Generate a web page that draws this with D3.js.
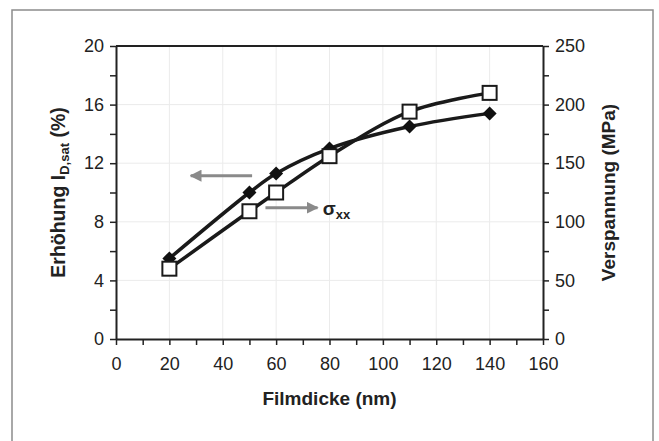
<!DOCTYPE html>
<html>
<head>
<meta charset="utf-8">
<script src="https://cdn.jsdelivr.net/npm/d3@7"></script>
<style>
  body { margin: 0; background: #fff; }
  text { font-family: "Liberation Sans", Arial, sans-serif; }
</style>
</head>
<body>
<div id="chart"></div>
<script>
// Filmdicke (nm)
const filmdicke = [20, 50, 60, 80, 110, 140];
// Erhöhung I_D,sat (%) - left axis, filled diamonds
const erhoehung = [5.5, 10.0, 11.3, 13.0, 14.5, 15.4];
// Verspannung (MPa) - right axis, open squares
const verspannung = [60, 109, 125, 156, 194, 210];

const xTicks = [0, 20, 40, 60, 80, 100, 120, 140, 160];
const yLeftTicks = [0, 4, 8, 12, 16, 20];
const yRightTicks = [0, 50, 100, 150, 200, 250];

const width = 659, height = 441,
    margin = { top: 46, right: 116, bottom: 102, left: 116 };

const svg = d3.select("#chart").append("svg")
    .attr("width", width).attr("height", height);

// outer frame
svg.append("rect")
    .attr("x", 12).attr("y", 10)
    .attr("width", 641).attr("height", 440)
    .attr("fill", "none")
    .attr("stroke", "#8c8c8c")
    .attr("stroke-width", 1.5);

const x = d3.scaleLinear().domain([0, 160]).range([margin.left, width - margin.right]);
const yL = d3.scaleLinear().domain([0, 20]).range([height - margin.bottom, margin.top]);
const yR = d3.scaleLinear().domain([0, 250]).range([height - margin.bottom, margin.top]);

// grid
svg.append("g").selectAll("line")
    .data(xTicks.slice(1, -1))
    .join("line")
    .attr("x1", d => x(d)).attr("x2", d => x(d))
    .attr("y1", yL(0)).attr("y2", yL(20))
    .attr("stroke", "#ebebeb").attr("stroke-width", 1);

svg.append("g").selectAll("line")
    .data(yLeftTicks.slice(1, -1))
    .join("line")
    .attr("x1", x(0)).attr("x2", x(160))
    .attr("y1", d => yL(d)).attr("y2", d => yL(d))
    .attr("stroke", "#ebebeb").attr("stroke-width", 1);

// top border of the plot area
svg.append("line")
    .attr("x1", x(0)).attr("x2", x(160))
    .attr("y1", yL(20)).attr("y2", yL(20))
    .attr("stroke", "#222").attr("stroke-width", 2);

function styleAxis(g) {
    g.selectAll("path").attr("stroke", "#222").attr("stroke-width", 2);
    g.selectAll("line").attr("stroke", "#222").attr("stroke-width", 1.5);
    g.selectAll("text").attr("font-size", 18).attr("fill", "#222")
        .style("font-family", "'Liberation Sans', Arial, sans-serif");
}

// x axis: minor ticks every 10, labels every 20
svg.append("g")
    .attr("transform", `translate(0,${yL(0)})`)
    .call(d3.axisBottom(x).tickValues(d3.range(0, 161, 10)).tickSize(6).tickSizeOuter(0)
        .tickPadding(12)
        .tickFormat(d => xTicks.includes(d) ? d : ""))
    .call(styleAxis);

svg.append("g")
    .attr("transform", `translate(${x(0)},0)`)
    .call(d3.axisLeft(yL).tickValues(d3.range(0, 21, 2)).tickSize(6).tickSizeOuter(0)
        .tickPadding(6)
        .tickFormat(d => yLeftTicks.includes(d) ? d : ""))
    .call(styleAxis);

svg.append("g")
    .attr("transform", `translate(${x(160)},0)`)
    .call(d3.axisRight(yR).tickValues(d3.range(0, 251, 25)).tickSize(6).tickSizeOuter(0)
        .tickPadding(6)
        .tickFormat(d => yRightTicks.includes(d) ? d : ""))
    .call(styleAxis);

// axis titles
svg.append("text")
    .attr("x", (x(0) + x(160)) / 2)
    .attr("y", 405)
    .attr("text-anchor", "middle")
    .attr("font-size", 19).attr("font-weight", "bold").attr("fill", "#222")
    .text("Filmdicke (nm)");

const leftTitle = svg.append("text")
    .attr("transform", `translate(65,${(yL(0) + yL(20)) / 2}) rotate(-90)`)
    .attr("text-anchor", "middle")
    .attr("font-size", 19.5).attr("font-weight", "bold").attr("fill", "#222");
leftTitle.append("tspan").text("Erhöhung I");
leftTitle.append("tspan").attr("font-size", 13).attr("dy", 4).text("D,sat");
leftTitle.append("tspan").attr("dy", -4).text(" (%)");

svg.append("text")
    .attr("transform", `translate(615,${(yL(0) + yL(20)) / 2}) rotate(-90)`)
    .attr("text-anchor", "middle")
    .attr("font-size", 19).attr("font-weight", "bold").attr("fill", "#222")
    .text("Verspannung (MPa)");

// lines
const dataL = filmdicke.map((d, i) => ({ x: d, y: erhoehung[i] }));
const dataR = filmdicke.map((d, i) => ({ x: d, y: verspannung[i] }));

const lineL = d3.line().x(d => x(d.x)).y(d => yL(d.y)).curve(d3.curveCatmullRom.alpha(0.5));
const lineR = d3.line().x(d => x(d.x)).y(d => yR(d.y)).curve(d3.curveCatmullRom.alpha(0.5));

svg.append("path").datum(dataL)
    .attr("fill", "none").attr("stroke", "#1a1a1a").attr("stroke-width", 3.5)
    .attr("d", lineL);
svg.append("path").datum(dataR)
    .attr("fill", "none").attr("stroke", "#1a1a1a").attr("stroke-width", 3.5)
    .attr("d", lineR);

// markers
svg.selectAll(".dia")
    .data(dataL)
    .join("path")
    .attr("class", "dia")
    .attr("transform", d => `translate(${x(d.x)},${yL(d.y)})`)
    .attr("d", "M0,-7L7,0L0,7L-7,0Z")
    .attr("fill", "#111");

svg.selectAll(".sq")
    .data(dataR)
    .join("rect")
    .attr("class", "sq")
    .attr("x", d => x(d.x) - 7).attr("y", d => yR(d.y) - 7)
    .attr("width", 14).attr("height", 14)
    .attr("fill", "#fff").attr("stroke", "#1a1a1a").attr("stroke-width", 2);

// arrows
svg.append("defs").append("marker")
    .attr("id", "head")
    .attr("viewBox", "0 0 10 10")
    .attr("refX", 9).attr("refY", 5)
    .attr("markerWidth", 4).attr("markerHeight", 4)
    .attr("markerUnits", "strokeWidth")
    .attr("orient", "auto")
    .append("path").attr("d", "M0,0L10,5L0,10Z").attr("fill", "#8a8a8a");

svg.append("line")
    .attr("x1", x(51)).attr("x2", x(28)).attr("y1", yL(11.15)).attr("y2", yL(11.15))
    .attr("stroke", "#8a8a8a").attr("stroke-width", 3).attr("marker-end", "url(#head)");

svg.append("line")
    .attr("x1", x(56)).attr("x2", x(75.5)).attr("y1", yR(112)).attr("y2", yR(112))
    .attr("stroke", "#8a8a8a").attr("stroke-width", 3).attr("marker-end", "url(#head)");

const sig = svg.append("text")
    .attr("x", x(77.5)).attr("y", yR(112) + 7)
    .attr("font-size", 19).attr("font-weight", "bold").attr("fill", "#222");
sig.append("tspan").text("σ");
sig.append("tspan").attr("font-size", 13).attr("dy", 4).text("xx");
</script>
</body>
</html>
